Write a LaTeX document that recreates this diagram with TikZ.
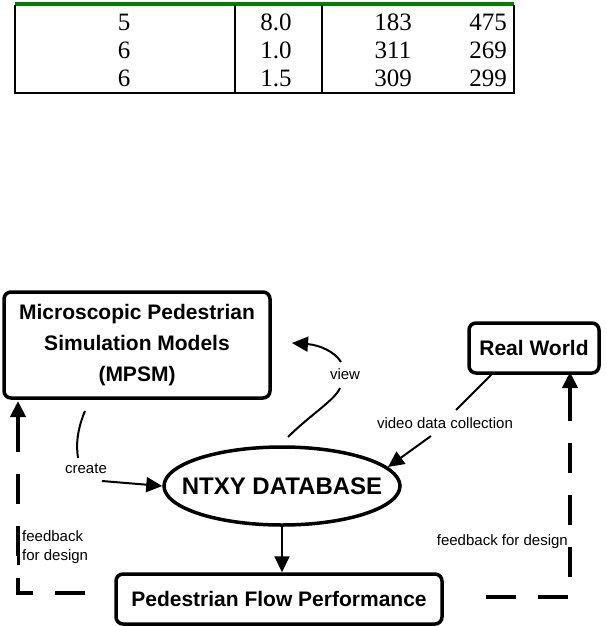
\documentclass[tikz,border=0pt]{standalone}
\usepackage{fontspec}
\setmainfont{Liberation Serif}
\newfontfamily\sans{Liberation Sans}
\usetikzlibrary{arrows.meta,shapes.geometric}
\begin{document}
\begin{tikzpicture}[x=1pt,y=-1pt,
  bx/.style={draw,line width=3.5pt,rounded corners=7pt,font=\sans\bfseries\fontsize{21}{25}\selectfont,align=center,inner sep=0pt},
  lbl/.style={font=\sans\fontsize{15}{19}\selectfont,inner sep=1pt},
  cell/.style={font=\fontsize{25}{27}\selectfont,inner sep=0pt},
  arr/.style={line width=2pt,-{Triangle[length=16pt,width=15pt]}},
  ln/.style={line width=2pt},
  dsh/.style={line width=4pt,dash pattern=on 30pt off 22pt}]
\useasboundingbox (0,0) rectangle (606,626);
% table
\draw[green!50!black,line width=4pt] (15,4) -- (514,4);
\draw[line width=2pt] (15,5) -- (15,93) -- (514,93) -- (514,5);
\draw[line width=2pt] (235,5) -- (235,93);
\draw[line width=2pt] (322,5) -- (322,93);
\foreach \y/\a/\b/\c/\d in {22/5/8.0/183/475,50/6/1.0/311/269,78/6/1.5/309/299}{
  \node[cell] at (124,\y) {\a};
  \node[cell] at (276,\y) {\b};
  \node[cell] at (393,\y) {\c};
  \node[cell,anchor=east] at (507,\y) {\d};
}
% diagram
\node[bx,minimum width=266pt,minimum height=106pt] (mpsm) at (137,345) {Microscopic Pedestrian\\[6pt]Simulation Models\\[6pt](MPSM)};
\node[bx,minimum width=130pt,minimum height=50pt] (rw) at (534,348) {Real World};
\node[bx,minimum width=326pt,minimum height=50pt] (pfp) at (279,599) {Pedestrian Flow Performance};
\node[draw,ellipse,line width=3.5pt,minimum width=236pt,minimum height=78pt,inner sep=0pt] (db) at (282,486) {};
\node[font=\sans\bfseries\fontsize{24}{28}\selectfont,inner sep=0pt] (dbt) at (db.center) {NTXY DATABASE};
% create
\node[lbl] (cl) at (86,469) {create};
\draw[ln] (85,411) .. controls (77,430) and (76,445) .. (78,458);
\draw[arr] (102,481) -- (db.west);
% view
\node[lbl] (vl) at (345,374) {view};
\draw[ln] (288,437) .. controls (310,415) and (335,400) .. (340,388);
\draw[arr] (341,362) .. controls (335,352) and (320,345) .. (292,343);
% video
\node[lbl] (video) at (445,423) {video data collection};
\draw[ln] (rw.south west) ++(24,0) -- (456,410);
\draw[arr] (431,436) -- (388,467);
% db to pfp
\draw[arr] (db.south) -- (db.south |- pfp.north);
% left feedback
\draw[dsh] (85,593) -- (18,593) -- (18,440);
\draw[arr,line width=4pt] (18,445) -- (18,401);
\draw[line width=3pt] (18,535) -- (18,565);
\node[lbl,align=left,anchor=west] (lf) at (21,547) {feedback\\for design};
% right feedback
\draw[dsh] (486,597) -- (570,597) -- (570,400);
\draw[arr,line width=4pt] (570,420) -- (570,372);
\node[lbl,anchor=east] (rf) at (569,542) {feedback for design};
\end{tikzpicture}
\end{document}
